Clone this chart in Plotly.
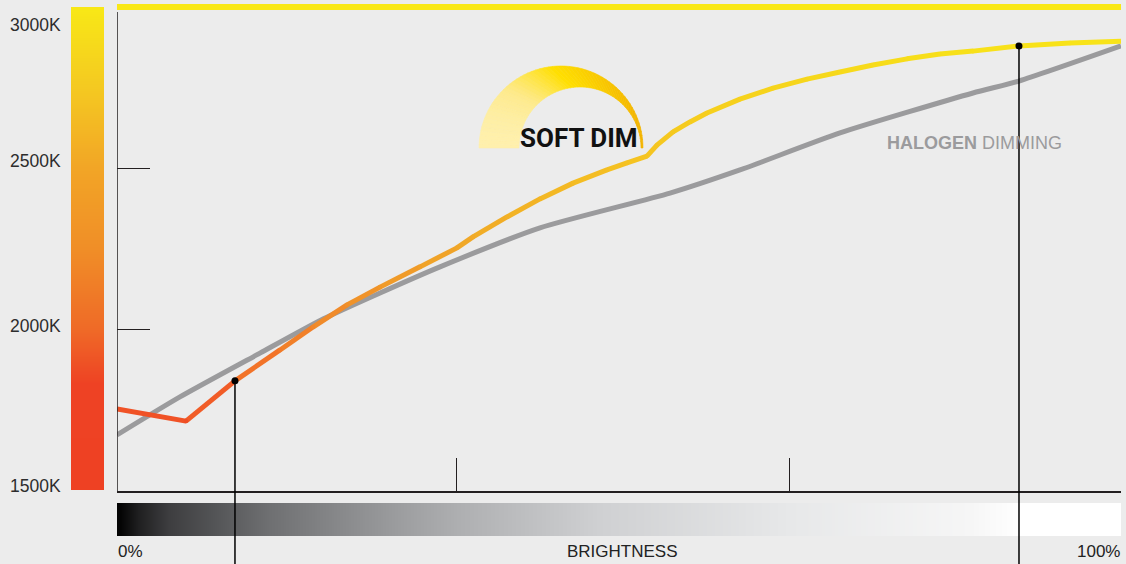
import numpy as np
import plotly.graph_objects as go
from plotly.colors import sample_colorscale

# ---------------- data ----------------
brightness_soft = [0, 6.87, 11.75, 16.24, 19.52, 22.91, 26.20, 30.18, 33.86, 35.46,
                   38.84, 42.13, 45.42, 48.80, 50.80, 52.79, 53.78, 55.38, 57.07, 58.76,
                   62.05, 65.34, 68.73, 72.01, 75.30, 78.69, 81.97, 85.26, 89.84, 94.92, 100]
cct_soft = [1752, 1714, 1839, 1935, 2006, 2075, 2130, 2193, 2252, 2286,
            2348, 2404, 2453, 2494, 2516, 2537, 2571, 2612, 2643, 2671,
            2714, 2748, 2776, 2798, 2820, 2839, 2854, 2863, 2879, 2888, 2894]
brightness_halogen = [0, 6.27, 14.24, 20.52, 26.20, 32.17, 42.13, 55.08, 62.05, 72.01, 85.26, 89.84, 100]
cct_halogen = [1671, 1789, 1925, 2031, 2112, 2193, 2314, 2422, 2494, 2609, 2733, 2770, 2879]
marker_idx = [2, 28]          # points marked with a black dot + drop line
max_cct = 3000                # top yellow reference line
ytick_vals = [2000, 2500]
xtick_vals = [33.8, 67.0]
ytick_labels = ["3000K", "2500K", "2000K", "1500K"]
x_labels = ["0%", "BRIGHTNESS", "100%"]

# ---------------- layout helpers ----------------
W, H = 1126, 564
BG = "#ececec"
def pxx(x): return x / W
def pxy(y): return 1 - y / H

K_PER_PX = 500 / 161
Y0 = 1500 - 1 * K_PER_PX
Y1 = 3000 + 5 * K_PER_PX
YDOM = [pxy(491), pxy(2)]
XDOM = [pxx(117), pxx(1121)]
def val_to_paper(v):
    return YDOM[0] + (v - Y0) / (Y1 - Y0) * (YDOM[1] - YDOM[0])

def norm_scale(stops):
    lo, hi = stops[0][0], stops[-1][0]
    return [[(v - lo) / (hi - lo), c] for v, c in stops], lo, hi

line_scale, L_LO, L_HI = norm_scale([(1700, "#ef4a25"), (1840, "#f26b28"), (2030, "#f08a2a"),
                                     (2250, "#f0a628"), (2540, "#f5c421"), (2750, "#f6d41c"),
                                     (2900, "#f8e419")])
bar_scale, _, _ = norm_scale([(1500, "#ee4123"), (1830, "#ee4224"), (2000, "#ef6a27"),
                              (2250, "#f08e27"), (2500, "#f2a526"), (2750, "#f4c921"),
                              (3000, "#f8e816")])
gray_scale = [[0, "#000000"], [0.02, "#1e1e1f"], [0.05, "#3d3d3f"], [0.1, "#555658"],
              [0.15, "#6e6f71"], [0.28, "#9c9d9f"], [0.34, "#aeafb1"], [0.48, "#cfd0d2"],
              [0.67, "#e7e8e9"], [0.85, "#f6f6f6"], [0.9, "#ffffff"], [1, "#ffffff"]]

def line_color(v):
    t = min(max((v - L_LO) / (L_HI - L_LO), 0), 1)
    return sample_colorscale(line_scale, [t])[0]

fig = go.Figure()

# left colour-temperature bar
bar_t = np.arange(1505, 3000, 10)
fig.add_trace(go.Heatmap(x=[0, 1], y=bar_t, z=[[t, t] for t in bar_t], xaxis="x2", yaxis="y",
                         colorscale=bar_scale, zmin=1500, zmax=3000, showscale=False,
                         zsmooth="best", hoverinfo="skip"))
# bottom brightness bar
bar_b = np.arange(0.25, 100, 0.5)
fig.add_trace(go.Heatmap(x=bar_b, y=[0, 1], z=[list(bar_b), list(bar_b)], xaxis="x", yaxis="y3",
                         colorscale=gray_scale, zmin=0, zmax=100, showscale=False,
                         zsmooth="best", hoverinfo="skip"))

# top max line
fig.add_trace(go.Scatter(x=[0, 100], y=[max_cct, max_cct], mode="lines",
                         line=dict(color="#f9e816", width=6), hoverinfo="skip"))
# halogen dimming
fig.add_trace(go.Scatter(x=brightness_halogen, y=cct_halogen, mode="lines",
                         line=dict(color="#9b9b9d", width=5, shape="spline", smoothing=0.6),
                         hoverinfo="skip"))
# soft dim: coloured segments
for i in range(len(cct_soft) - 1):
    mid = (cct_soft[i] + cct_soft[i + 1]) / 2
    fig.add_trace(go.Scatter(x=brightness_soft[i:i + 2], y=cct_soft[i:i + 2], mode="lines",
                             line=dict(color=line_color(mid), width=5), hoverinfo="skip"))
fig.add_trace(go.Scatter(x=brightness_soft[1:-1], y=cct_soft[1:-1], mode="markers",
                         marker=dict(size=4.6, color=[line_color(v) for v in cct_soft[1:-1]],
                                     line=dict(width=0)), hoverinfo="skip"))
# black dots
fig.add_trace(go.Scatter(x=[brightness_soft[i] for i in marker_idx],
                         y=[cct_soft[i] for i in marker_idx], mode="markers",
                         marker=dict(size=7, color="#000000"), hoverinfo="skip"))

shapes = []
# y axis line
shapes.append(dict(type="line", xref="x", yref="paper", x0=0, x1=0, y0=pxy(491), y1=pxy(12),
                   line=dict(color="#231f20", width=1.5), layer="above"))
# drop lines
for i in marker_idx:
    shapes.append(dict(type="line", xref="x", yref="paper", x0=brightness_soft[i], x1=brightness_soft[i],
                       y0=0, y1=val_to_paper(cct_soft[i]), line=dict(color="#000000", width=1.5),
                       layer="above"))

# SOFT DIM logo arc (crescent built from slices)
arc_scale = [[0, "#fff5c8"], [0.25, "#feea8c"], [0.5, "#ffdf00"], [1, "#f3b300"]]
cxo, Ro, cxi, Ri, cy = 561, 82, 580, 61, 148
N = 60
for k in range(N):
    a0 = np.pi - k * np.pi / N
    a1 = np.pi - (k + 1) * np.pi / N
    pts = [(cxo + Ro * np.cos(a0), cy - Ro * np.sin(a0)), (cxo + Ro * np.cos(a1), cy - Ro * np.sin(a1)),
           (cxi + Ri * np.cos(a1), cy - Ri * np.sin(a1)), (cxi + Ri * np.cos(a0), cy - Ri * np.sin(a0))]
    xm = np.mean([p[0] for p in pts])
    t = min(max((xm - 480) / (643 - 480), 0), 1)
    col = sample_colorscale(arc_scale, [t])[0]
    path = "M " + " L ".join(f"{pxx(x):.5f},{pxy(y):.5f}" for x, y in pts) + " Z"
    shapes.append(dict(type="path", xref="paper", yref="paper", path=path, fillcolor=col,
                       line=dict(color=col, width=0.6), layer="above"))

annotations = []
for lab, yc in zip(ytick_labels, [25, 161, 326, 486]):
    annotations.append(dict(text=lab, x=pxx(63), y=pxy(yc), xref="paper", yref="paper",
                            xanchor="right", yanchor="middle", showarrow=False,
                            font=dict(family="Liberation Sans, Arial", size=17.5, color="#2d2d2d")))
for lab, xc, anc in zip(x_labels, [116, 622.5, 1122], ["left", "center", "right"]):
    annotations.append(dict(text=lab, x=pxx(xc), y=pxy(551.5), xref="paper", yref="paper",
                            xanchor=anc, yanchor="middle", showarrow=False,
                            font=dict(family="Liberation Sans, Arial", size=17, color="#222222")))
annotations.append(dict(text="<b>SOFT DIM</b>", x=pxx(579), y=pxy(138), xref="paper", yref="paper",
                        xanchor="center", yanchor="middle", showarrow=False,
                        font=dict(family="Roboto, Liberation Sans", size=26, color="#111111")))
annotations.append(dict(text="<b>HALOGEN</b> DIMMING", x=pxx(974.5), y=pxy(143), xref="paper", yref="paper",
                        xanchor="center", yanchor="middle", showarrow=False,
                        font=dict(family="Liberation Sans, Arial", size=18, color="#9b9b9d")))

fig.update_layout(
    width=W, height=H, margin=dict(l=0, r=0, t=0, b=0),
    paper_bgcolor=BG, plot_bgcolor=BG, showlegend=False,
    xaxis=dict(domain=XDOM, range=[0, 100], anchor="y", showgrid=False, zeroline=False,
               showline=True, linecolor="#231f20", linewidth=1.5, ticks="inside",
               tickvals=xtick_vals, ticklen=33, tickwidth=1, tickcolor="#231f20",
               showticklabels=False),
    yaxis=dict(domain=YDOM, range=[Y0, Y1], anchor="x", showgrid=False, zeroline=False,
               showline=False, ticks="inside", tickvals=ytick_vals, ticklen=33, tickwidth=1,
               tickcolor="#231f20", showticklabels=False),
    xaxis2=dict(domain=[pxx(71), pxx(104)], anchor="y", range=[-0.5, 1.5], visible=False),
    yaxis3=dict(domain=[pxy(536), pxy(503)], anchor="x", range=[-0.5, 1.5], visible=False),
    shapes=shapes, annotations=annotations,
)

fig.write_html("out.html", config={"displayModeBar": False, "staticPlot": True},
               post_script="document.body.style.margin='0';document.body.style.overflow='hidden';"
                           "document.body.style.background='#ececec';")
